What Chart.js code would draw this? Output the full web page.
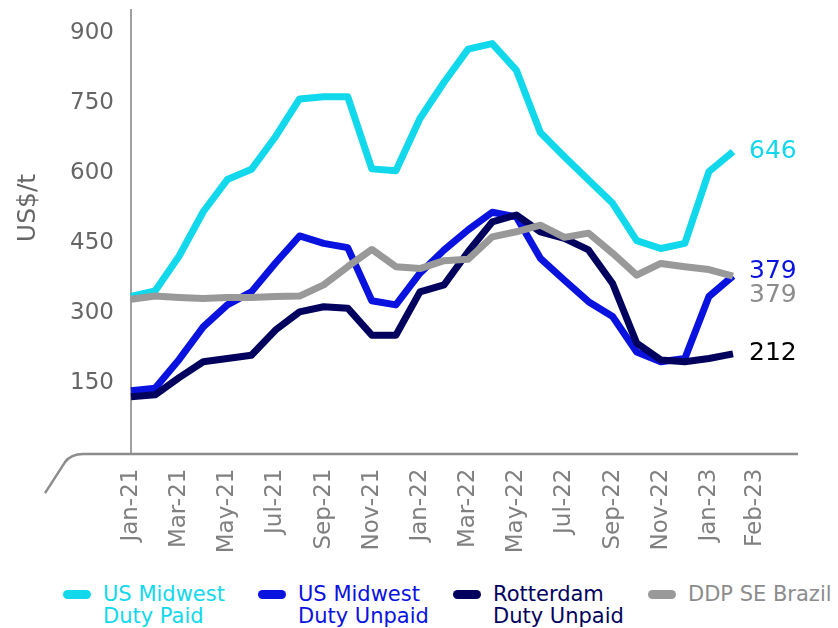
<!DOCTYPE html>
<html>
<head>
<meta charset="utf-8">
<script src="https://cdn.jsdelivr.net/npm/chart.js@4"></script>
<style>
    body { margin: 0; background: #fff; font-family: "DejaVu Sans", Verdana, sans-serif; }
    #wrap { position: relative; width: 838px; height: 628px; }
    #chartBox { position: absolute; left: 0; top: 0; width: 838px; height: 570px; }
    #legend { position: absolute; left: 63px; top: 583px; display: flex; }
    .leg-item { display: flex; align-items: flex-start; width: 195px; }
    .leg-mark { width: 28px; height: 9px; border-radius: 5px; margin-top: 7px; margin-right: 12px; flex: none; }
    .leg-text { font-size: 21px; line-height: 22px; white-space: nowrap; }
</style>
</head>
<body>
<div id="wrap">
    <div id="chartBox"><canvas id="priceChart"></canvas></div>
    <div id="legend"></div>
</div>
<script>
// months Jan-21 .. Feb-23
const months = ['Jan-21', 'Feb-21', 'Mar-21', 'Apr-21', 'May-21', 'Jun-21', 'Jul-21', 'Aug-21',
    'Sep-21', 'Oct-21', 'Nov-21', 'Dec-21', 'Jan-22', 'Feb-22', 'Mar-22', 'Apr-22', 'May-22',
    'Jun-22', 'Jul-22', 'Aug-22', 'Sep-22', 'Oct-22', 'Nov-22', 'Dec-22', 'Jan-23', 'Feb-23'];
const shownMonths = ['Jan-21', 'Mar-21', 'May-21', 'Jul-21', 'Sep-21', 'Nov-21', 'Jan-22',
    'Mar-22', 'May-22', 'Jul-22', 'Sep-22', 'Nov-22', 'Jan-23', 'Feb-23'];

const usPaid = [335, 347, 422, 517, 586, 608, 678, 759, 764, 764, 609, 605, 717, 795, 866, 878,
    821, 687, 635, 585, 535, 455, 438, 449, 603, 646];
const usUnpaid = [133, 138, 200, 270, 317, 345, 407, 465, 449, 440, 326, 317, 385, 435, 478, 516,
    506, 417, 370, 324, 292, 216, 195, 202, 335, 379];
const rotterdam = [120, 124, 161, 195, 202, 209, 263, 302, 313, 310, 252, 252, 345, 360, 431, 495,
    510, 474, 460, 435, 363, 235, 199, 195, 202, 212];
const brazil = [329, 336, 333, 331, 333, 333, 335, 336, 360, 399, 436, 399, 395, 412, 415, 463,
    474, 488, 462, 471, 428, 381, 406, 399, 393, 379];

const yTicks = [150, 300, 450, 600, 750, 900];

// colour, end-label colour and vertical nudge of the end label
const seriesStyle = [
    { color: '#12d8ec', labelColor: '#12d8ec', nudge: 0 },
    { color: '#0a12e0', labelColor: '#0a12e0', nudge: -5 },
    { color: '#02025e', labelColor: '#000000', nudge: 0 },
    { color: '#999999', labelColor: '#8c8c8c', nudge: 19 }
];

const FONT = '"DejaVu Sans", Verdana, sans-serif';

// last value written next to each line
const endLabels = {
    id: 'endLabels',
    afterDatasetsDraw(chart) {
        const ctx = chart.ctx;
        ctx.save();
        ctx.font = '25px ' + FONT;
        ctx.textBaseline = 'middle';
        ctx.textAlign = 'left';
        chart.data.datasets.forEach((ds, i) => {
            const meta = chart.getDatasetMeta(i);
            const pt = meta.data[meta.data.length - 1];
            ctx.fillStyle = seriesStyle[i].labelColor;
            ctx.fillText(String(ds.data[ds.data.length - 1]), pt.x + 16, pt.y + seriesStyle[i].nudge);
        });
        ctx.restore();
    }
};

// horizontal base line with the curled left end, plus the y title centred on the tick range
const axisDecor = {
    id: 'axisDecor',
    afterDraw(chart) {
        const { ctx, chartArea } = chart;
        const y = chartArea.bottom + 1.5;
        const l = chartArea.left;
        ctx.save();
        ctx.strokeStyle = '#8c8c8c';
        ctx.lineWidth = 2.5;
        ctx.beginPath();
        ctx.moveTo(l - 86, y + 39);
        ctx.lineTo(l - 66, y + 8);
        ctx.quadraticCurveTo(l - 60, y, l - 48, y);
        ctx.lineTo(chartArea.right + 65, y);
        ctx.stroke();

        const ys = chart.scales.y;
        const mid = ys.getPixelForValue((yTicks[0] + yTicks[yTicks.length - 1]) / 2);
        ctx.translate(ys.left + 28, mid);
        ctx.rotate(-Math.PI / 2);
        ctx.font = '25px ' + FONT;
        ctx.fillStyle = '#666666';
        ctx.textAlign = 'center';
        ctx.textBaseline = 'middle';
        ctx.fillText('US$/t', 0, 0);
        ctx.restore();
    }
};

const names = ['US Midwest\nDuty Paid', 'US Midwest\nDuty Unpaid', 'Rotterdam\nDuty Unpaid', 'DDP SE Brazil'];
const values = [usPaid, usUnpaid, rotterdam, brazil];

const chart = new Chart(document.getElementById('priceChart'), {
    type: 'line',
    data: {
        labels: months,
        datasets: values.map((v, i) => ({
            label: names[i],
            data: v,
            borderColor: seriesStyle[i].color,
            backgroundColor: seriesStyle[i].color,
            borderWidth: 7,
            borderJoinStyle: 'round',
            pointRadius: 0,
            tension: 0,
            order: 4 - i
        }))
    },
    options: {
        responsive: true,
        maintainAspectRatio: false,
        animation: false,
        layout: { padding: { top: 10, right: 105, left: 0, bottom: 0 } },
        plugins: {
            legend: { display: false },
            tooltip: { enabled: false }
        },
        scales: {
            x: {
                grid: { display: false, drawTicks: false },
                border: { display: false },
                afterFit(scale) { scale.height = 117.4; },
                ticks: {
                    autoSkip: false,
                    minRotation: 90,
                    maxRotation: 90,
                    padding: 16,
                    color: '#808080',
                    font: { family: FONT, size: 23, lineHeight: '22px' },
                    callback(val, i) {
                        const m = months[i];
                        if (!shownMonths.includes(m)) return '';
                        // the last label sits a little right of its month, as in the source
                        return i === months.length - 1 ? ['', m] : m;
                    }
                }
            },
            y: {
                min: 0,
                max: 950,
                grid: { display: false, drawTicks: false },
                border: { display: true, color: '#a0a0a0', width: 2 },
                afterFit(scale) {
                    scale.width = 131;
                    scale.paddingTop = 0;
                    scale.paddingBottom = 0;
                },
                afterBuildTicks(scale) { scale.ticks = yTicks.map(v => ({ value: v })); },
                ticks: {
                    padding: 17,
                    color: '#666666',
                    font: { family: FONT, size: 23 }
                }
            }
        }
    },
    plugins: [endLabels, axisDecor]
});

// legend built from the datasets
const legendEl = document.getElementById('legend');
chart.data.datasets.forEach((ds, i) => {
    const item = document.createElement('div');
    item.className = 'leg-item';
    const mark = document.createElement('span');
    mark.className = 'leg-mark';
    mark.style.background = ds.borderColor;
    const text = document.createElement('div');
    text.className = 'leg-text';
    text.style.color = i === 3 ? seriesStyle[i].labelColor : ds.borderColor;
    text.innerHTML = ds.label.split('\n').join('<br>');
    item.appendChild(mark);
    item.appendChild(text);
    legendEl.appendChild(item);
});
</script>
</body>
</html>
